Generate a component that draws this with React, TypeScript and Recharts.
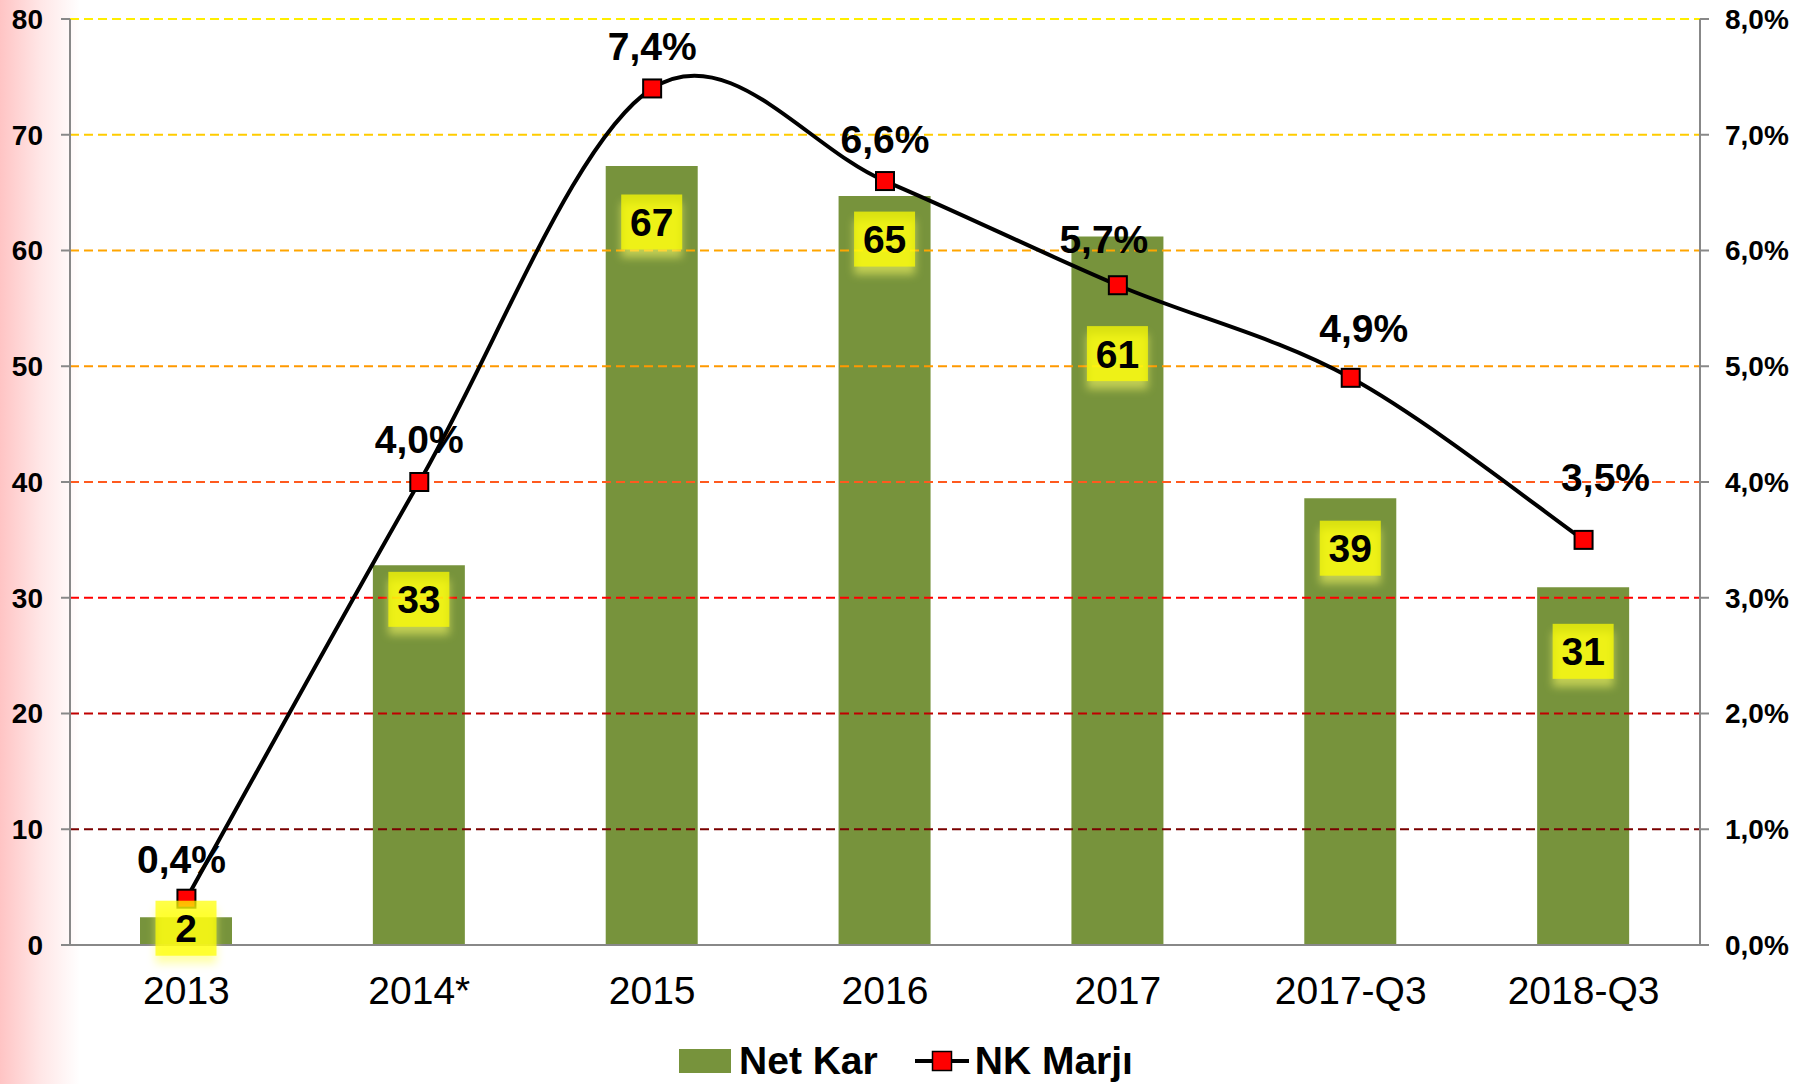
import {
  Bar,
  ComposedChart,
  Legend,
  Line,
  ReferenceLine,
  XAxis,
  YAxis,
} from "recharts";

const years = ["2013", "2014*", "2015", "2016", "2017", "2017-Q3", "2018-Q3"];
const netKar = [2.4, 32.8, 67.3, 64.7, 61.2, 38.6, 30.9];
const nkMarji = [0.4, 4.0, 7.4, 6.6, 5.7, 4.9, 3.5];
const leftTicks = [0, 10, 20, 30, 40, 50, 60, 70, 80];
const rightTicks = [0, 1, 2, 3, 4, 5, 6, 7, 8];

// dashed gridline colours, from 10 up to 80
const gridColors = ["#7a0000", "#c00000", "#ff0000", "#ff5a1e", "#ff9900", "#ffa500", "#ffcc00", "#ffee00"];
// where the yellow value boxes sit, measured down from each bar top
const boxDrop = [11, 34, 56, 43, 117, 50, 64];
// small nudges of the % labels away from their points
const pctNudge: [number, number][] = [[-5, -40], [0, -43], [0, -42], [0, -42], [-14, -46], [13, -50], [22, -63]];

const data = years.map((year, i) => ({ year, netKar: netKar[i], nkMarji: nkMarji[i] }));

const FONT = "'Liberation Sans', Arial, sans-serif";
const GREEN = "#77933c";

const fmtPct = (v: number) => v.toFixed(1).replace(".", ",") + "%";

function smoothCurve(context: any) {
  let pts: [number, number][] = [];
  return {
    areaStart() {},
    areaEnd() {},
    lineStart() {
      pts = [];
    },
    lineEnd() {
      if (!pts.length) return;
      context.moveTo(pts[0][0], pts[0][1]);
      for (let i = 0; i < pts.length - 1; i++) {
        const p0 = pts[i - 1] || pts[i];
        const p1 = pts[i];
        const p2 = pts[i + 1];
        const p3 = pts[i + 2] || p2;
        context.bezierCurveTo(
          p1[0] + (p2[0] - p0[0]) / 6,
          p1[1] + (p2[1] - p0[1]) / 6,
          p2[0] - (p3[0] - p1[0]) / 6,
          p2[1] - (p3[1] - p1[1]) / 6,
          p2[0],
          p2[1]
        );
      }
    },
    point(x: number, y: number) {
      pts.push([+x, +y]);
    },
  };
}

function BarValueBox(props: any) {
  const { x, y, width, index, value } = props;
  const cx = x + width / 2;
  const cy = y + boxDrop[index];
  const w = 61;
  const h = 55;
  const fid = `glow-${index}`;
  return (
    <g>
      <defs>
        <filter id={fid} x="-50%" y="-50%" width="200%" height="200%">
          <feGaussianBlur stdDeviation="4" />
        </filter>
      </defs>
      <rect x={cx - w / 2} y={cy - h / 2 + 8} width={w} height={h} fill="#ffff66" opacity={0.55} filter={`url(#${fid})`} />
      <rect x={cx - w / 2} y={cy - h / 2} width={w} height={h} fill="#ffff00" opacity={0.72} />
      <text x={cx} y={cy + 14} textAnchor="middle" fontFamily={FONT} fontWeight="bold" fontSize={39} fill="#000">
        {Math.round(value)}
      </text>
    </g>
  );
}

function PctLabel(props: any) {
  const { x, y, index, value } = props;
  const [dx, dy] = pctNudge[index];
  return (
    <text x={x + dx} y={y + dy + 14} textAnchor="middle" fontFamily={FONT} fontWeight="bold" fontSize={39} fill="#000">
      {fmtPct(value)}
    </text>
  );
}

function SquareDot(props: any) {
  const { cx, cy, index } = props;
  return <rect key={`dot-${index}`} x={cx - 9} y={cy - 9} width={18} height={18} fill="#ff0000" stroke="#000" strokeWidth={2} />;
}

function LegendBox() {
  return (
    <div
      style={{
        display: "flex",
        justifyContent: "center",
        alignItems: "center",
        height: 54,
        paddingTop: 4,
        fontFamily: FONT,
        fontWeight: "bold",
        fontSize: 39,
        color: "#000",
      }}
    >
      <span style={{ display: "inline-block", width: 52, height: 24, background: GREEN, marginRight: 8 }} />
      <span>Net Kar</span>
      <svg width={56} height={24} style={{ marginLeft: 36, marginRight: 5 }}>
        <line x1={1} y1={12} x2={55} y2={12} stroke="#000" strokeWidth={4} />
        <rect x={18.5} y={2.5} width={19} height={19} fill="#ff0000" stroke="#000" strokeWidth={1.5} />
      </svg>
      <span>NK Marjı</span>
    </div>
  );
}

export default function App() {
  return (
    <div
      style={{
        width: 1812,
        height: 1084,
        background: "linear-gradient(to right, #ffc4c4 0px, #ffe6e6 40px, #ffffff 80px)",
      }}
    >
      <style>{`body{margin:0}`}</style>
      <ComposedChart width={1812} height={1084} data={data} margin={{ top: 19, right: 0, left: 0, bottom: 0 }}>
        <XAxis
          dataKey="year"
          height={85}
          axisLine={{ stroke: "#888", strokeWidth: 2 }}
          tickLine={false}
          tickSize={6}
          tickMargin={25}
          tick={{ fontFamily: FONT, fontSize: 39, fill: "#000" }}
        />
        <YAxis
          yAxisId="left"
          width={70}
          domain={[0, 80]}
          ticks={leftTicks}
          interval={0}
          axisLine={{ stroke: "#888", strokeWidth: 2 }}
          tickLine={{ stroke: "#888", strokeWidth: 2 }}
          tickSize={9}
          tickMargin={18}
          tick={{ fontFamily: FONT, fontSize: 28, fontWeight: "bold", fill: "#000" }}
        />
        <YAxis
          yAxisId="right"
          orientation="right"
          width={112}
          domain={[0, 8]}
          ticks={rightTicks}
          interval={0}
          tickFormatter={fmtPct}
          axisLine={{ stroke: "#888", strokeWidth: 2 }}
          tickLine={{ stroke: "#888", strokeWidth: 2 }}
          tickSize={9}
          tickMargin={16}
          tick={{ fontFamily: FONT, fontSize: 28, fontWeight: "bold", fill: "#000" }}
        />
        {leftTicks.slice(1).map((t, i) => (
          <ReferenceLine key={t} yAxisId="left" y={t} stroke={gridColors[i]} strokeWidth={2} strokeDasharray="9 5" />
        ))}
        <Legend verticalAlign="bottom" height={54} content={() => <LegendBox />} />
        <Bar
          yAxisId="left"
          dataKey="netKar"
          name="Net Kar"
          fill={GREEN}
          barSize={92}
          isAnimationActive={false}
          label={(p: any) => <BarValueBox {...p} />}
        />
        <Line
          yAxisId="right"
          dataKey="nkMarji"
          name="NK Marjı"
          type={smoothCurve as any}
          stroke="#000"
          strokeWidth={4}
          dot={(p: any) => <SquareDot {...p} />}
          activeDot={false}
          isAnimationActive={false}
          label={(p: any) => <PctLabel {...p} />}
        />
      </ComposedChart>
    </div>
  );
}
